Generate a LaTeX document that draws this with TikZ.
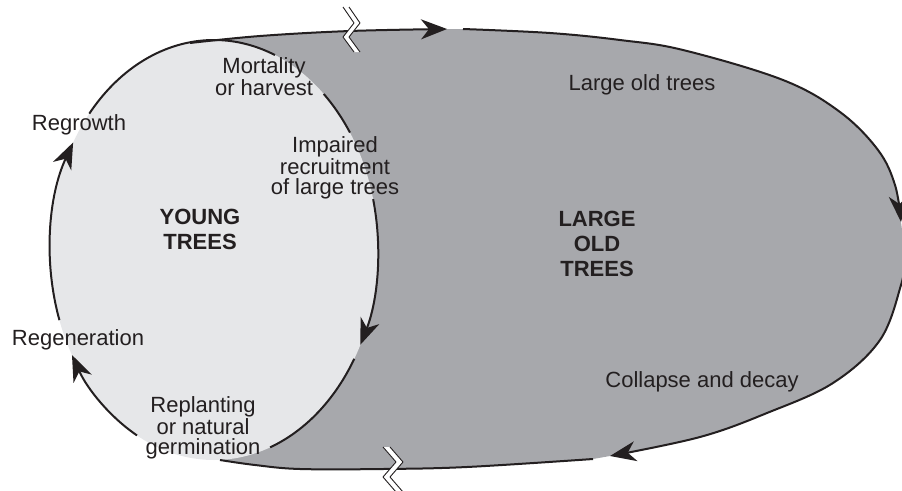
\documentclass[tikz,border=0pt]{standalone}
\usepackage{fontspec}
\setmainfont{Liberation Sans}
\usetikzlibrary{arrows.meta}
\definecolor{lightfill}{RGB}{230,231,233}
\definecolor{darkfill}{RGB}{167,168,172}
\definecolor{ink}{RGB}{35,31,32}
\begin{document}
\begin{tikzpicture}[x=1pt,y=-1pt,line join=round,
  outline/.style={draw=ink,line width=2pt},
  arr/.style={-{Stealth[length=26pt,width=20pt,inset=8pt]}},
  lbl/.style={font=\fontsize{22}{20}\selectfont,text=ink,align=center,anchor=base,inner sep=0pt},
  ttl/.style={lbl,font=\fontsize{22}{25}\selectfont\bfseries},
  brk/.style={draw=ink,line width=0.9pt}]
\useasboundingbox (0,0) rectangle (902,490);
\coordinate (C) at (214,250);
% dark region (large old trees)
\fill[darkfill]
  plot[smooth,tension=0.6] coordinates {(190,43) (260,36) (350,31) (447,29)}
  -- plot[smooth,tension=0.6] coordinates {(463,29) (550,33) (620,40) (683,50) (783,80) (840,112) (878,150) (895,185) (901,222)}
  -- plot[smooth,tension=0.6] coordinates {(903,238) (904,262) (901,285) (880,340) (833,383) (767,413) (700,437) (610,456)}
  -- plot[smooth,tension=0.6] coordinates {(593,459) (467,467) (383,469) (300,469) (255,465) (220,460)}
  -- (C) -- cycle;
% light region (young trees)
\fill[lightfill] (C) ellipse[x radius=164,y radius=210];
% outer cycle outline
\draw[outline,arr] plot[smooth,tension=0.6] coordinates {(190,43) (260,36) (350,31) (447,29)};
\draw[outline,arr] plot[smooth,tension=0.6] coordinates {(463,29) (550,33) (620,40) (683,50) (783,80) (840,112) (878,150) (895,185) (901,222)};
\draw[outline,arr] plot[smooth,tension=0.6] coordinates {(903,238) (904,262) (901,285) (880,340) (833,383) (767,413) (700,437) (610,456)};
\draw[outline] plot[smooth,tension=0.6] coordinates {(593,459) (467,467) (383,469) (300,469) (255,465) (220,460)};
% young-tree cycle outline
\draw[outline,arr] ([shift={(160.5:164 and 210)}]C) arc[start angle=160.5,end angle=210.8,x radius=164,y radius=210];
\draw[outline] ([shift={(220.5:164 and 210)}]C) arc[start angle=220.5,end angle=291.8,x radius=164,y radius=210];
\draw[outline] ([shift={(312:164 and 210)}]C) arc[start angle=312,end angle=326,x radius=164,y radius=210];
\draw[outline,arr] ([shift={(346:164 and 210)}]C) arc[start angle=346,end angle=386.8,x radius=164,y radius=210];
\draw[outline] ([shift={(31.2:164 and 210)}]C) arc[start angle=31.2,end angle=70,x radius=164,y radius=210];
\draw[outline,arr] ([shift={(118:164 and 210)}]C) arc[start angle=118,end angle=150,x radius=164,y radius=210];
% break marks
\fill[white] (343,7)--(354,23)--(343,37)--(354,52)--(360,52)--(349,37)--(360,23)--(349,7)--cycle;
\draw[brk] (343,7)--(354,23)--(343,37)--(354,52);
\draw[brk] (349,7)--(360,23)--(349,37)--(360,52);
\fill[white] (383,447)--(396,462)--(383,477)--(396,492)--(403,492)--(390,477)--(403,462)--(390,447)--cycle;
\draw[brk] (383,447)--(396,462)--(383,477)--(396,492);
\draw[brk] (390,447)--(403,462)--(390,477)--(403,492);
% labels (base anchor = baseline of the last line)
\node[lbl] (mort) at (264,95) {Mortality\\or harvest};
\node[lbl] (lot) at (642,90) {Large old trees};
\node[lbl] (regrowth) at (79,130) {Regrowth};
\node[lbl] (impaired) at (335,194) {Impaired\\recruitment\\of large trees};
\node[ttl] (young) at (200,249) {YOUNG\\TREES};
\node[ttl] (large) at (597,276) {LARGE\\OLD\\TREES};
\node[lbl] (regen) at (78,345) {Regeneration};
\node[lbl] (collapse) at (702,387) {Collapse and decay};
\node[lbl] (replant) at (203,454) {Replanting\\or natural\\germination};
\end{tikzpicture}
\end{document}
